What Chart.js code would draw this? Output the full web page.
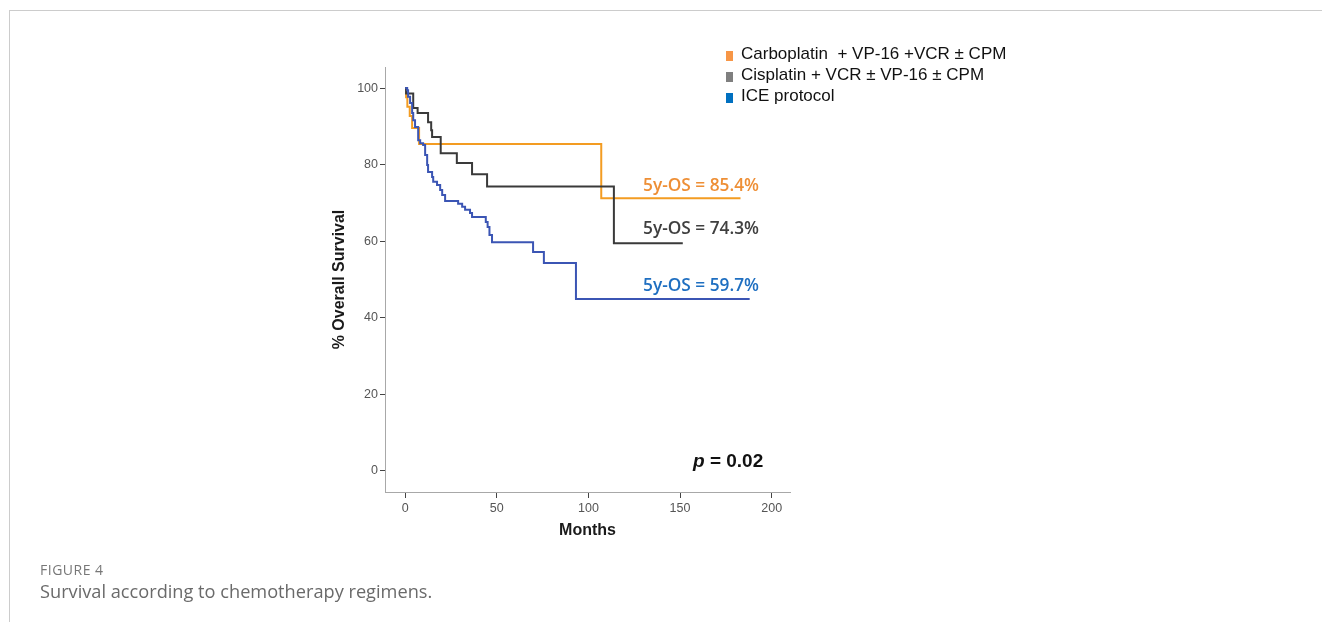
<!DOCTYPE html>
<html>
<head>
<meta charset="utf-8">
<script src="https://cdn.jsdelivr.net/npm/chart.js@4"></script>
<style>
html,body{margin:0;padding:0;background:#fff;width:1322px;height:622px;overflow:hidden;}
body{position:relative;}
#frame{position:absolute;left:9px;top:10px;width:1330px;height:700px;border-top:1px solid #cccccc;border-left:1px solid #cccccc;}
#wrap{position:absolute;left:0;top:0;width:1322px;height:622px;}
.t{position:absolute;white-space:pre;line-height:20px;}
.leg{font-family:"Liberation Sans",Arial,sans-serif;font-size:17px;color:#111;left:741px;}
.sq{position:absolute;left:726px;width:7px;height:10px;}
.os{font-family:"Open Sans",sans-serif;font-weight:600;font-size:17.3px;left:643px;}
#pval{font-family:"Liberation Sans",Arial,sans-serif;font-weight:bold;font-size:19px;color:#111;left:693px;top:451px;}
#fig{font-family:"Open Sans",sans-serif;font-size:14px;color:#777;left:40px;top:560px;letter-spacing:0.5px;}
#cap{font-family:"Open Sans",sans-serif;font-size:18.2px;color:#6a6a6a;left:40px;top:581px;}
</style>
</head>
<body>
<div id="frame"></div>
<div id="wrap"><canvas id="c" width="1322" height="622"></canvas></div>

<div class="sq" style="top:51px;background:#F79646"></div>
<div class="t leg" style="top:44px">Carboplatin  + VP-16 +VCR ± CPM</div>
<div class="sq" style="top:72px;background:#7F7F7F"></div>
<div class="t leg" style="top:65px">Cisplatin + VCR ± VP-16 ± CPM</div>
<div class="sq" style="top:93px;background:#0070C0"></div>
<div class="t leg" style="top:86px">ICE protocol</div>

<div class="t os" style="top:175px;color:#EE8F36">5y-OS = 85.4%</div>
<div class="t os" style="top:218px;color:#404040">5y-OS = 74.3%</div>
<div class="t os" style="top:275px;color:#1F6FC1">5y-OS = 59.7%</div>

<div class="t" id="pval"><i>p</i> = 0.02</div>

<div class="t" id="fig">FIGURE 4</div>
<div class="t" id="cap">Survival according to chemotherapy regimens.</div>

<script>
// ---- data (Kaplan-Meier step points: month, % overall survival) ----
const carboMonths = [0, 0.5, 1.2, 2.5, 3.8, 7.6, 107, 183];
const carboOS     = [100, 97.6, 95.1, 92.7, 89.6, 85.4, 71.2, 71.2];

const cisMonths = [0, 0.5, 4.4, 6.8, 12.5, 14.2, 14.7, 19.4, 28.2, 36.5, 44.7, 113.9, 151.5];
const cisOS     = [100, 98.6, 94.8, 93.5, 91.1, 89.0, 87.2, 83.0, 80.4, 77.5, 74.3, 59.5, 59.5];

const iceMonths = [0, 1.1, 1.6, 2.7, 3.8, 4.4, 5.4, 7.1, 8.2, 9.8, 10.9, 12.0, 12.5, 14.7, 15.3, 17.4, 19.1, 20.2, 21.8,
                   28.9, 31.1, 32.7, 35.4, 36.5, 44.0, 45.0, 46.0, 47.4, 69.8, 75.7, 93.2, 188];
const iceOS     = [100, 99.4, 97.7, 96.1, 93.5, 91.6, 89.8, 86.4, 85.6, 85.1, 82.5, 79.9, 78.1, 76.8, 75.5, 74.7, 73.4, 72.1, 70.5,
                   69.8, 69.0, 68.2, 67.4, 66.3, 65.0, 63.7, 61.6, 59.7, 57.2, 54.3, 44.9, 44.9];

const xTicks = [0, 50, 100, 150, 200];
const yTicks = [0, 20, 40, 60, 80, 100];
const seriesNames = ['Carboplatin  + VP-16 +VCR ± CPM', 'Cisplatin + VCR ± VP-16 ± CPM', 'ICE protocol'];

function km(t, s){ return t.map((v,i)=>({x:v, y:s[i]})); }

const FONT = '"Liberation Sans", Arial, sans-serif';

new Chart(document.getElementById('c'), {
  type: 'line',
  data: {
    datasets: [
      {label: seriesNames[2], data: km(iceMonths, iceOS), borderColor:'#3B55B4', borderWidth:2, stepped:'before', pointRadius:0, fill:false},
      {label: seriesNames[1], data: km(cisMonths, cisOS), borderColor:'#3A3A3A', borderWidth:2, stepped:'before', pointRadius:0, fill:false},
      {label: seriesNames[0], data: km(carboMonths, carboOS), borderColor:'#F39C22', borderWidth:2, stepped:'before', pointRadius:0, fill:false}
    ]
  },
  options: {
    responsive:false, animation:false, devicePixelRatio:1,
    layout:{padding:{left:300, right:532, top:67, bottom:70}},
    plugins:{legend:{display:false}, tooltip:{enabled:false}},
    scales:{
      x:{
        type:'linear', min:-11, max:210,
        afterBuildTicks:s=>{s.ticks = xTicks.map(v=>({value:v}));},
        afterFit:s=>{s.height = 60;},
        grid:{drawOnChartArea:false, drawTicks:true, tickLength:6, tickColor:'#444', tickWidth:1},
        border:{display:true, color:'#a8a8a8', width:1},
        ticks:{padding:3, color:'#555', font:{family:FONT, size:12.5}, autoSkip:false, maxRotation:0},
        title:{display:true, text:'Months', color:'#1a1a1a', font:{family:FONT, size:16, weight:'bold'}, padding:{top:0, bottom:12}}
      },
      y:{
        type:'linear', min:-5.5, max:105.5,
        afterBuildTicks:s=>{s.ticks = yTicks.map(v=>({value:v}));},
        afterFit:s=>{s.width = 85;},
        grid:{drawOnChartArea:false, drawTicks:true, tickLength:5, tickColor:'#444', tickWidth:1},
        border:{display:true, color:'#a8a8a8', width:1},
        ticks:{padding:2, color:'#555', font:{family:FONT, size:12.5}, autoSkip:false},
        title:{display:true, text:'% Overall Survival', color:'#1a1a1a', font:{family:FONT, size:16, weight:'bold'}, padding:{top:30, bottom:0}}
      }
    }
  }
});
</script>
</body>
</html>
